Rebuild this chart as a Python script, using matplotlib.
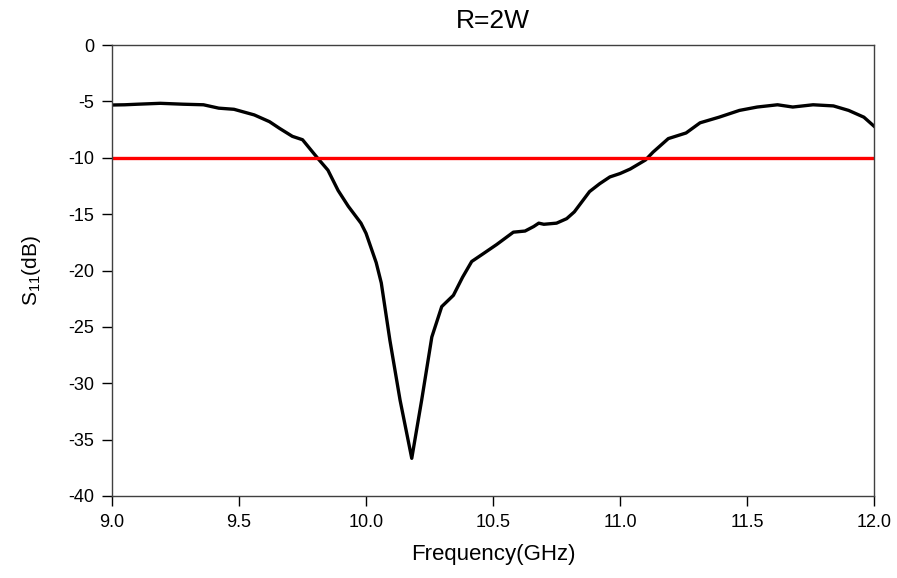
import matplotlib.pyplot as plt

# Datos
freq = [9.00, 9.05, 9.10, 9.19, 9.28, 9.36, 9.42, 9.48, 9.56, 9.62, 9.66, 9.71,
        9.75, 9.79, 9.81, 9.85, 9.89, 9.93, 9.98, 10.00, 10.02, 10.04, 10.06,
        10.094, 10.134, 10.18, 10.219, 10.259, 10.298, 10.344, 10.38, 10.416,
        10.462, 10.514, 10.58, 10.626, 10.66, 10.68, 10.70, 10.75, 10.79, 10.82,
        10.85, 10.88, 10.92, 10.96, 11.00, 11.04, 11.10, 11.13, 11.19, 11.26,
        11.315, 11.39, 11.47, 11.54, 11.62, 11.68, 11.76, 11.84, 11.90, 11.96,
        12.00]
s11 = [-5.32, -5.3, -5.25, -5.17, -5.25, -5.3, -5.6, -5.7, -6.2, -6.8, -7.4, -8.1,
       -8.4, -9.5, -10.05, -11.1, -12.9, -14.3, -15.8, -16.7, -18.0, -19.3, -21.1,
       -26.2, -31.5, -36.66, -31.5, -25.9, -23.2, -22.2, -20.6, -19.2,
       -18.5, -17.7, -16.6, -16.5, -16.1, -15.8, -15.9, -15.8, -15.4, -14.8,
       -13.9, -13.0, -12.3, -11.7, -11.4, -11.0, -10.2, -9.5, -8.3, -7.8,
       -6.9, -6.4, -5.8, -5.5, -5.3, -5.5, -5.3, -5.4, -5.8, -6.4,
       -7.2]
umbral = -10

plt.rcParams['font.family'] = ['Liberation Sans', 'DejaVu Sans']
plt.rcParams['mathtext.fontset'] = 'custom'
plt.rcParams['mathtext.rm'] = 'Liberation Sans'
plt.rcParams['mathtext.it'] = 'Liberation Sans'
plt.rcParams['axes.unicode_minus'] = False

fig = plt.figure(figsize=(8.97, 5.78), dpi=100)
ax = fig.add_axes([0.1249, 0.1419, 0.8495, 0.7802])

ax.plot(freq, s11, color='black', linewidth=2.4, solid_joinstyle='round')
ax.axhline(umbral, color='#ff0000', linewidth=2.4)

ax.set_xlim(9.0, 12.0)
ax.set_ylim(-40, 0)
ax.set_xticks([9.0, 9.5, 10.0, 10.5, 11.0, 11.5, 12.0])
ax.set_xticklabels(['9.0', '9.5', '10.0', '10.5', '11.0', '11.5', '12.0'])
ax.set_yticks(range(-40, 1, 5))
ax.tick_params(direction='out', length=7, width=1, labelsize=13, pad=6,
               colors='black')
for sp in ax.spines.values():
    sp.set_color('#404040')
    sp.set_linewidth(1)

ax.set_xlabel('Frequency(GHz)', fontsize=16, labelpad=9)
ax.set_ylabel(r'S$_{11}$(dB)', fontsize=15, labelpad=18)
ax.set_title('R=2W', fontsize=19, pad=12)

fig.savefig('out.png', dpi=100)
